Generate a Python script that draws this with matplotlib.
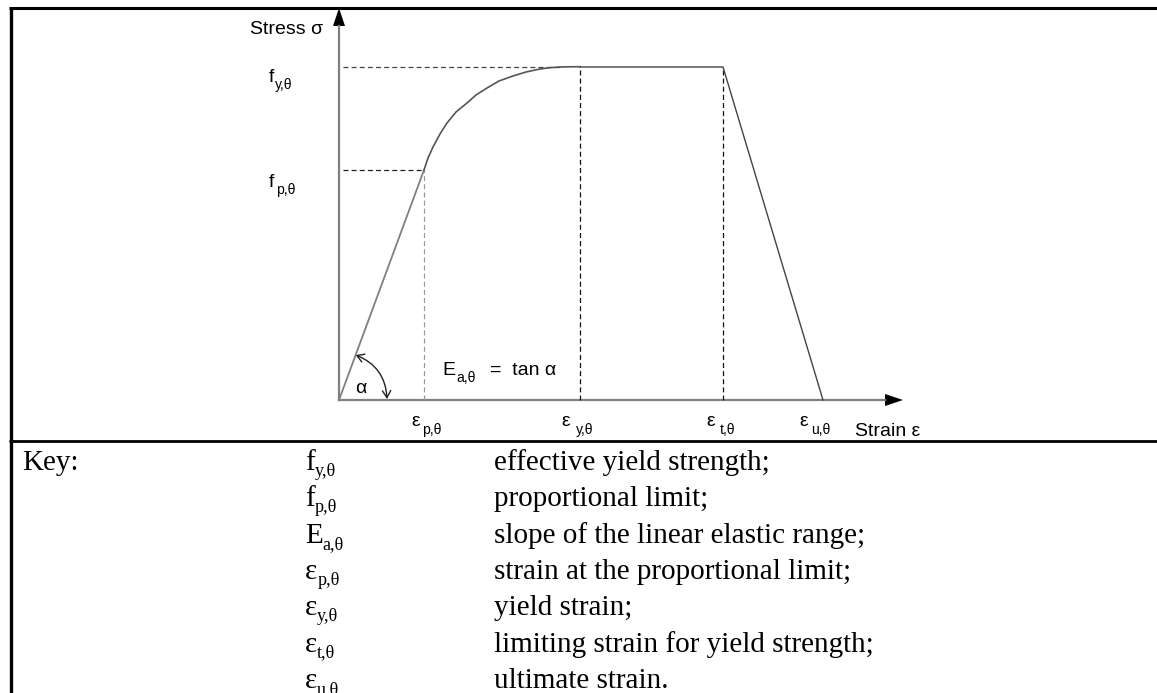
import numpy as np
import matplotlib
matplotlib.use('Agg')
import matplotlib.pyplot as plt
from matplotlib.patches import FancyArrowPatch

# schematic stress-strain values (same arbitrary units on both axes)
eps_p = 85
eps_y = 241
eps_t = 384
eps_u = 484
f_p = 230
f_y = 333

# elliptic branch between proportional limit and yield
curve_eps = [85, 89, 94, 101, 108, 117, 128, 137, 148, 160, 174, 187, 201, 211, 221, 231, 241]
curve_sig = [230, 242, 253, 266, 277, 288, 297, 305, 312, 319, 324, 328, 331, 332.3, 333, 333.2, 333.3]

key_main = ['f', 'f', 'E', 'ε', 'ε', 'ε', 'ε']
key_sub = ['y,θ', 'p,θ', 'a,θ', 'p,θ', 'y,θ', 't,θ', 'u,θ']
key_text = ['effective yield strength;', 'proportional limit;',
            'slope of the linear elastic range;',
            'strain at the proportional limit;', 'yield strain;',
            'limiting strain for yield strength;', 'ultimate strain.']

SANS = 'Liberation Sans'
SERIF = 'Liberation Serif'


def sub_label(axis, x, y, main, sub, size, family, gap=0, drop=0, scale=0.72):
    t = axis.text(x, y, main, fontsize=size, family=family,
                  ha='left', va='baseline')
    axis.annotate(sub, xy=(1, 0), xycoords=t, xytext=(gap, -drop),
                  textcoords='offset pixels', fontsize=size * scale,
                  family=family, ha='left', va='baseline')


fig = plt.figure(figsize=(11.57, 6.93), dpi=100)

# frame + key table, pixel-like coords
frame = fig.add_axes([0, 0, 1, 1])
frame.set_xlim(0, 1157)
frame.set_ylim(693, 0)
frame.axis('off')
frame.plot([9, 1157], [7.5, 7.5], color='black', lw=2.2, solid_capstyle='butt')
frame.plot([10.5, 10.5], [6.5, 693], color='black', lw=2.4, solid_capstyle='butt')
frame.plot([9, 1157], [440.5, 440.5], color='black', lw=2.0, solid_capstyle='butt')

frame.text(22, 470, 'Key:', fontsize=21, family=SERIF, va='baseline')
for i in range(len(key_text)):
    yy = 470 + 36.3 * i
    sub_label(frame, 305, yy, key_main[i], key_sub[i], 21, SERIF, gap=0, drop=0, scale=0.62)
    frame.text(494, yy, key_text[i], fontsize=21, family=SERIF, va='baseline')

# diagram axes: origin of the stress-strain plot at pixel (339, 400)
ax = fig.add_axes([0, 0, 1, 1])
ax.set_xlim(-339, 818)
ax.set_ylim(-293, 400)
ax.axis('off')

top = 392
right = 564
head_len = 18
head_half = 6
ax.plot([0, 0], [0, top - head_len], color='#808080', lw=1.6)
ax.plot([0, right - head_len], [0, 0], color='#808080', lw=1.6)
ax.fill([-head_half, head_half, 0], [top - head_len, top - head_len, top], color='black', lw=0)
ax.fill([right - head_len, right - head_len, right], [-head_half, head_half, 0], color='black', lw=0)

# dashed guides
dash = dict(lw=0.9, dashes=(4, 2.5))
ax.plot([4, 221], [f_y, f_y], color='#444444', **dash)
ax.plot([4, eps_p], [f_p, f_p], color='#222222', **dash)
ax.plot([eps_p, eps_p], [0, f_p], color='#999999', **dash)
ax.plot([eps_y, eps_y], [0, f_y], color='#111111', **dash)
ax.plot([eps_t, eps_t], [0, f_y], color='#111111', **dash)

# stress-strain law
ax.plot([0, eps_p], [0, f_p], color='#808080', lw=1.3)
ax.plot(curve_eps, curve_sig, color='#555555', lw=1.2)
ax.plot([eps_y, eps_t, eps_u], [f_y, f_y, 0], color='#444444', lw=1.0)

# angle alpha
r = 48
ang = np.arctan2(f_p, eps_p)
arc = FancyArrowPatch(posA=(r * np.cos(ang), r * np.sin(ang)), posB=(r, 1),
                      connectionstyle='arc3,rad=-0.32',
                      arrowstyle='<->,head_length=0.5,head_width=0.3',
                      mutation_scale=10, color='#222222', lw=1.0,
                      shrinkA=0, shrinkB=0)
ax.add_patch(arc)
ax.text(16, 7, 'α', fontsize=14, family=SANS, va='baseline')

# labels
fs = 14
ax.text(-89, 366, 'Stress σ', fontsize=fs, family=SANS, va='baseline')
ax.text(516, -36, 'Strain ε', fontsize=fs, family=SANS, va='baseline')
sub_label(ax, -70, f_y - 15, 'f', 'y,θ', fs, SANS, gap=1, drop=3)
sub_label(ax, -70, f_p - 17, 'f', 'p,θ', fs, SANS, gap=2, drop=3)
sub_label(ax, eps_p - 13, -26, 'ε', 'p,θ', fs, SANS, gap=2, drop=4)
sub_label(ax, eps_y - 19, -26, 'ε', 'y,θ', fs, SANS, gap=6, drop=4)
sub_label(ax, eps_t - 17, -26, 'ε', 't,θ', fs, SANS, gap=5, drop=4)
sub_label(ax, eps_u - 24, -26, 'ε', 'u,θ', fs, SANS, gap=4, drop=4)
sub_label(ax, 103, 25, 'E', 'a,θ', fs, SANS, gap=1, drop=3)
ax.text(151, 25, '=  tan α', fontsize=fs, family=SANS, va='baseline')

fig.savefig('out.png', dpi=100)
